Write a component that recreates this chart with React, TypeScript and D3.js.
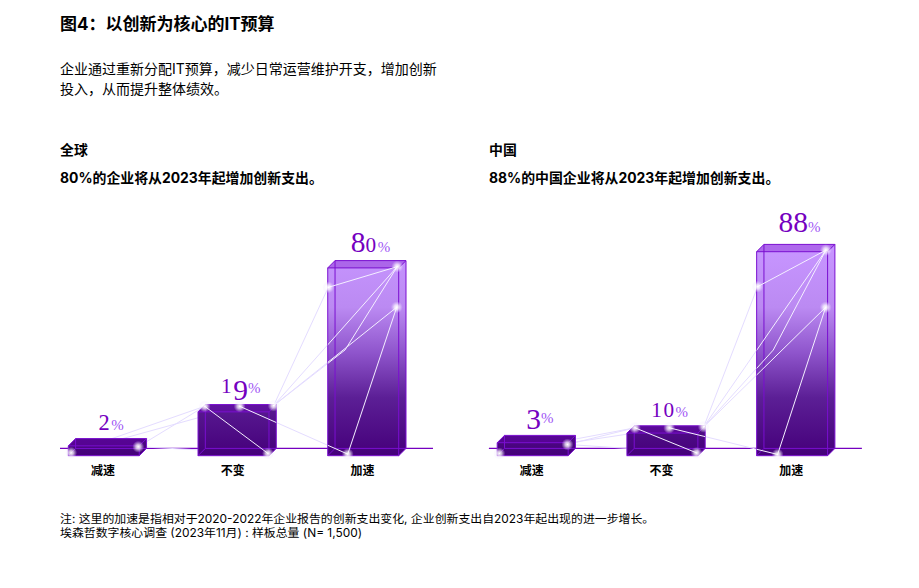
import React, { useEffect, useRef } from "react";
import * as d3 from "d3";

const categories = ["减速", "不变", "加速"];
const globalValues = [2, 19, 80];
const chinaValues = [3, 10, 88];

const width = 919;
const height = 588;
const baseline = 448.4;
const depth = 7.3;
const purple = "#7500c0";
const lavender = "#e4dcff";
const sans = 'Inter, "Noto Sans CJK SC", sans-serif';

// the source bars are pictorial, the small ones are drawn taller than their value
const barHeight = d3
  .scaleLinear()
  .domain([0, 2, 3, 10, 80, 88])
  .range([0, 9.8, 13, 22.6, 187.8, 204]);

// gap between bar top and label baseline
const globalLift = [9, 11.5, 9];
const chinaLift = [12.5, 8.5, 12];

// light nodes: bar index, across the front face, down the whole box
const globalNodes = {
  a: [0, 0.04, 0.83],
  b: [0, 0.986, 0.476],
  c: [1, 0.094, 0.034],
  d: [1, 0.587, 0.034],
  e: [1, 1.066, 0.02],
  f: [1, 0.986, 0.956],
  g: [2, 0.98, 0.031],
  h: [2, 0.008, 0.137],
  i: [2, 0.972, 0.239],
  j: [2, 0.282, 0.992],
  k: [2, 0.244, 0.458],
};
const chinaNodes = {
  a: [0, 0.03, 0.89],
  b: [0, 0.99, 0.446],
  c: [1, 0.113, 0.067],
  d: [1, 0.596, 0.067],
  e: [1, 1.083, 0.034],
  f: [1, 0.982, 0.906],
  g: [2, 0.976, 0.027],
  h: [2, 0.014, 0.2],
  i: [2, 0.972, 0.298],
  j: [2, 0.296, 0.994],
  k: [2, 0.234, 0.5],
};
const softLinks = ["ac", "bc", "ad", "bf", "dj", "eg", "eh", "ei", "ek"];
const brightLinks = ["cf", "dj", "eg", "ei", "ek", "kg", "hg", "ij"];
const glowNodes = ["a", "b", "c", "d", "e", "f", "g", "h", "i", "j"];

const gradientStops = [
  [0, "#c795ff"],
  [0.28, "#bb8af2"],
  [0.5, "#8f55cc"],
  [0.72, "#5c1f96"],
  [1, "#45007a"],
];

// old style figures: relative size and drop for each digit
const digitStyle = {
  "0": [0.72, 0],
  "1": [0.72, 0],
  "2": [0.76, 0],
  "3": [1, 6.5],
  "8": [1, 0],
  "9": [1, 6.5],
};

const textRows = [
  { text: "图4：以创新为核心的IT预算", x: 60, y: 30, size: 17, weight: 700 },
  { text: "企业通过重新分配IT预算，减少日常运营维护开支，增加创新", x: 60, y: 74, size: 14, weight: 400 },
  { text: "投入，从而提升整体绩效。", x: 60, y: 94, size: 14, weight: 400 },
  { text: "全球", x: 60, y: 155, size: 13.9, weight: 700 },
  { text: "80%的企业将从2023年起增加创新支出。", x: 60, y: 183, size: 13.9, weight: 700 },
  { text: "中国", x: 489, y: 155, size: 13.9, weight: 700 },
  { text: "88%的中国企业将从2023年起增加创新支出。", x: 489, y: 183, size: 13.9, weight: 700 },
  { text: "注: 这里的加速是指相对于2020-2022年企业报告的创新支出变化, 企业创新支出自2023年起出现的进一步增长。", x: 60, y: 523, size: 11.9, weight: 400 },
  { text: "埃森哲数字核心调查 (2023年11月) : 样板总量 (N= 1,500)", x: 60, y: 537, size: 11.9, weight: 400 },
];

function drawPanel(svg, id, dx, values, nodes, lifts) {
  const g = svg.append("g").attr("transform", `translate(${dx},0)`);

  const x = d3
    .scaleBand()
    .domain(categories)
    .range([68.3, 398.7])
    .paddingInner(0.453)
    .paddingOuter(0);
  const w = x.bandwidth();

  const bars = categories.map((name, i) => {
    const top = baseline - barHeight(values[i]);
    return { name, value: values[i], lift: lifts[i], left: x(name), top, bottom: baseline + depth };
  });

  const hull = (b) =>
    d3.line()([
      [b.left, b.bottom],
      [b.left, b.top + depth],
      [b.left + depth, b.top],
      [b.left + w + depth, b.top],
      [b.left + w + depth, baseline],
      [b.left + w, b.bottom],
    ]) + "Z";

  const point = (key) => {
    const [i, u, v] = nodes[key];
    const b = bars[i];
    return [b.left + u * w, b.top + v * (b.bottom - b.top)];
  };
  const linkPath = (link) => d3.line()([point(link[0]), point(link[1])]);

  g.append("clipPath")
    .attr("id", `inside-${id}`)
    .selectAll("path")
    .data(bars.slice(1))
    .join("path")
    .attr("d", hull);

  g.append("line")
    .attr("x1", 60)
    .attr("x2", 433)
    .attr("y1", baseline)
    .attr("y2", baseline)
    .attr("stroke", purple)
    .attr("stroke-width", 1.2);

  g.selectAll(".soft")
    .data(softLinks)
    .join("path")
    .attr("class", "soft")
    .attr("d", linkPath)
    .attr("fill", "none")
    .attr("stroke", lavender)
    .attr("stroke-width", 1);

  const bar = g.selectAll(".bar").data(bars).join("g").attr("class", "bar");

  bar.append("path").attr("d", hull).attr("fill", "url(#barFill)");

  // top face is a touch darker than the body
  bar
    .append("path")
    .attr("d", (b) =>
      d3.line()([
        [b.left, b.top + depth],
        [b.left + depth, b.top],
        [b.left + w + depth, b.top],
        [b.left + w, b.top + depth],
      ]) + "Z"
    )
    .attr("fill", "#7500c0")
    .attr("fill-opacity", 0.3);

  bar
    .append("path")
    .attr("d", hull)
    .attr("fill", "none")
    .attr("stroke", "#7a0fd0")
    .attr("stroke-width", 1);

  // wire frame of the box
  bar
    .append("path")
    .attr("d", (b) =>
      [
        `M${b.left},${b.top + depth}H${b.left + w}V${b.bottom}`,
        `M${b.left + w},${b.top + depth}L${b.left + w + depth},${b.top}`,
        `M${b.left + depth},${b.top}V${baseline}H${b.left + w + depth}`,
        `M${b.left + depth},${baseline}L${b.left},${b.bottom}`,
      ].join("")
    )
    .attr("fill", "none")
    .attr("stroke", "#7a0fd0")
    .attr("stroke-width", 1);

  g.append("g")
    .attr("clip-path", `url(#inside-${id})`)
    .selectAll("path")
    .data(brightLinks)
    .join("path")
    .attr("d", linkPath)
    .attr("fill", "none")
    .attr("stroke", "#f4efff")
    .attr("stroke-width", 1);

  g.selectAll(".glow")
    .data(glowNodes)
    .join("circle")
    .attr("class", "glow")
    .attr("cx", (k) => point(k)[0])
    .attr("cy", (k) => point(k)[1])
    .attr("r", 6)
    .attr("fill", "url(#glow)");

  g.selectAll(".cat")
    .data(bars)
    .join("text")
    .attr("class", "cat")
    .attr("x", (b) => b.left + w / 2 - 0.8)
    .attr("y", 475)
    .attr("text-anchor", "middle")
    .attr("font-family", sans)
    .attr("font-size", 12)
    .attr("font-weight", 700)
    .attr("fill", "#000")
    .text((b) => b.name);

  const label = g
    .selectAll(".value")
    .data(bars)
    .join("text")
    .attr("class", "value")
    .attr("x", (b) => b.left + depth + w / 2)
    .attr("y", (b) => b.top - b.lift)
    .attr("text-anchor", "middle")
    .attr("font-family", '"Liberation Serif", serif')
    .attr("fill", purple);

  label.each(function (b) {
    const t = d3.select(this);
    let drop = 0;
    String(b.value)
      .split("")
      .forEach((digit) => {
        const [scale, shift] = digitStyle[digit];
        t.append("tspan")
          .attr("font-size", 29.5 * scale)
          .attr("letter-spacing", scale < 1 ? 1.5 : 0)
          .attr("dy", shift - drop)
          .text(digit);
        drop = shift;
      });
    t.append("tspan")
      .attr("font-size", 15)
      .attr("dy", -drop)
      .attr("fill", "#a055f5")
      .text("%");
  });
}

const App = () => {
  const svgRef = useRef(null);

  useEffect(() => {
    const svg = d3.select(svgRef.current);
    svg.selectAll("*").remove();

    const defs = svg.append("defs");
    const fill = defs
      .append("linearGradient")
      .attr("id", "barFill")
      .attr("gradientUnits", "userSpaceOnUse")
      .attr("x1", 0)
      .attr("x2", 0)
      .attr("y1", 250)
      .attr("y2", 455);
    fill
      .selectAll("stop")
      .data(gradientStops)
      .join("stop")
      .attr("offset", (d) => d[0])
      .attr("stop-color", (d) => d[1]);

    const glow = defs.append("radialGradient").attr("id", "glow");
    glow.append("stop").attr("offset", 0).attr("stop-color", "#fff").attr("stop-opacity", 1);
    glow.append("stop").attr("offset", 0.4).attr("stop-color", "#fff").attr("stop-opacity", 0.7);
    glow.append("stop").attr("offset", 1).attr("stop-color", "#e9dcff").attr("stop-opacity", 0);

    svg
      .selectAll(".copy")
      .data(textRows)
      .join("text")
      .attr("class", "copy")
      .attr("x", (d) => d.x)
      .attr("y", (d) => d.y)
      .attr("font-family", sans)
      .attr("font-size", (d) => d.size)
      .attr("font-weight", (d) => d.weight)
      .attr("fill", "#000")
      .text((d) => d.text);

    drawPanel(svg, "global", 0, globalValues, globalNodes, globalLift);
    drawPanel(svg, "china", 428.9, chinaValues, chinaNodes, chinaLift);
  }, []);

  return (
    <svg
      ref={svgRef}
      width={width}
      height={height}
      style={{ position: "absolute", left: 0, top: 0, background: "#fff" }}
    />
  );
};

export default App;
